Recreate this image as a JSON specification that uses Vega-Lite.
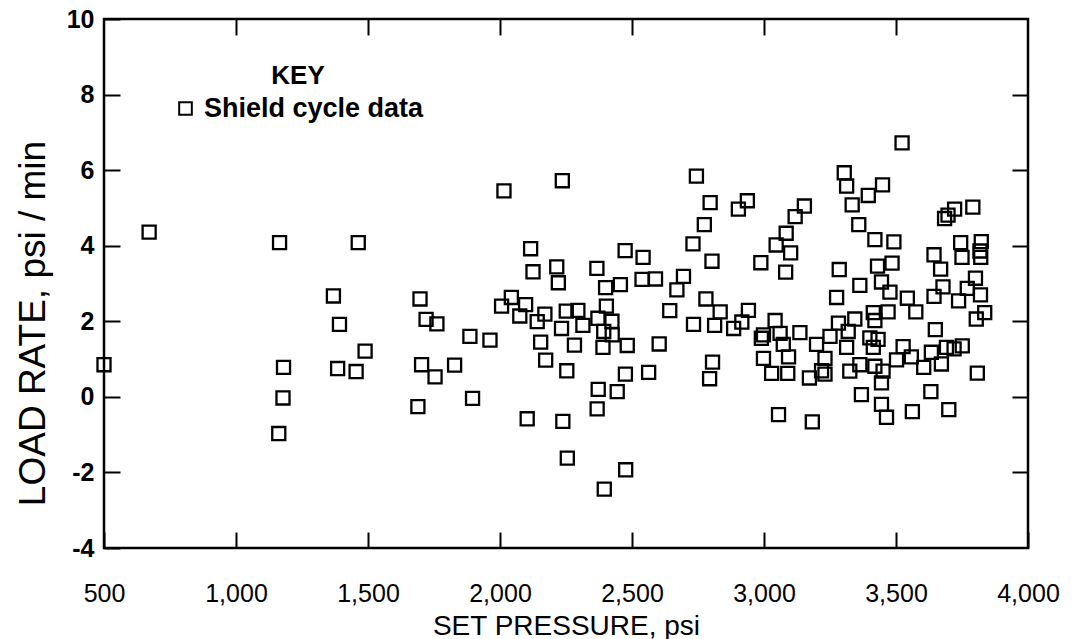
{
  "$schema": "https://vega.github.io/schema/vega-lite/v6.json",
  "width": 924,
  "height": 529,
  "autosize": {"type": "none"},
  "padding": {"left": 104, "top": 19, "right": 48, "bottom": 91},
  "background": "white",
  "config": {
    "view": {"stroke": "black", "strokeWidth": 2.5},
    "axis": {"grid": false, "domain": false, "tickColor": "black", "tickWidth": 2, "labelColor": "black", "titleColor": "black", "labelFlush": false, "labelOverlap": false}
  },
  "data": {
    "values": [
      {"pressure": 500, "rate": 0.85, "series": "Shield cycle data"},
      {"pressure": 671, "rate": 4.36, "series": "Shield cycle data"},
      {"pressure": 1165, "rate": 4.08, "series": "Shield cycle data"},
      {"pressure": 1180, "rate": 0.78, "series": "Shield cycle data"},
      {"pressure": 1178, "rate": -0.03, "series": "Shield cycle data"},
      {"pressure": 1162, "rate": -0.97, "series": "Shield cycle data"},
      {"pressure": 1369, "rate": 2.67, "series": "Shield cycle data"},
      {"pressure": 1392, "rate": 1.92, "series": "Shield cycle data"},
      {"pressure": 1385, "rate": 0.75, "series": "Shield cycle data"},
      {"pressure": 1455, "rate": 0.67, "series": "Shield cycle data"},
      {"pressure": 1463, "rate": 4.08, "series": "Shield cycle data"},
      {"pressure": 1489, "rate": 1.21, "series": "Shield cycle data"},
      {"pressure": 1697, "rate": 2.59, "series": "Shield cycle data"},
      {"pressure": 1720, "rate": 2.05, "series": "Shield cycle data"},
      {"pressure": 1761, "rate": 1.93, "series": "Shield cycle data"},
      {"pressure": 1703, "rate": 0.85, "series": "Shield cycle data"},
      {"pressure": 1754, "rate": 0.53, "series": "Shield cycle data"},
      {"pressure": 1689, "rate": -0.26, "series": "Shield cycle data"},
      {"pressure": 1828, "rate": 0.84, "series": "Shield cycle data"},
      {"pressure": 1886, "rate": 1.6, "series": "Shield cycle data"},
      {"pressure": 1896, "rate": -0.04, "series": "Shield cycle data"},
      {"pressure": 1962, "rate": 1.5, "series": "Shield cycle data"},
      {"pressure": 2006, "rate": 2.4, "series": "Shield cycle data"},
      {"pressure": 2043, "rate": 2.63, "series": "Shield cycle data"},
      {"pressure": 2015, "rate": 5.45, "series": "Shield cycle data"},
      {"pressure": 2097, "rate": 2.44, "series": "Shield cycle data"},
      {"pressure": 2075, "rate": 2.14, "series": "Shield cycle data"},
      {"pressure": 2116, "rate": 3.92, "series": "Shield cycle data"},
      {"pressure": 2125, "rate": 3.31, "series": "Shield cycle data"},
      {"pressure": 2141, "rate": 1.99, "series": "Shield cycle data"},
      {"pressure": 2170, "rate": 2.19, "series": "Shield cycle data"},
      {"pressure": 2154, "rate": 1.45, "series": "Shield cycle data"},
      {"pressure": 2173, "rate": 0.97, "series": "Shield cycle data"},
      {"pressure": 2103, "rate": -0.58, "series": "Shield cycle data"},
      {"pressure": 2236, "rate": 5.72, "series": "Shield cycle data"},
      {"pressure": 2215, "rate": 3.44, "series": "Shield cycle data"},
      {"pressure": 2221, "rate": 3.02, "series": "Shield cycle data"},
      {"pressure": 2233, "rate": 1.81, "series": "Shield cycle data"},
      {"pressure": 2251, "rate": 2.27, "series": "Shield cycle data"},
      {"pressure": 2295, "rate": 2.29, "series": "Shield cycle data"},
      {"pressure": 2314, "rate": 1.89, "series": "Shield cycle data"},
      {"pressure": 2371, "rate": 2.08, "series": "Shield cycle data"},
      {"pressure": 2403, "rate": 2.4, "series": "Shield cycle data"},
      {"pressure": 2424, "rate": 2.0, "series": "Shield cycle data"},
      {"pressure": 2425, "rate": 1.64, "series": "Shield cycle data"},
      {"pressure": 2393, "rate": 1.73, "series": "Shield cycle data"},
      {"pressure": 2282, "rate": 1.37, "series": "Shield cycle data"},
      {"pressure": 2390, "rate": 1.31, "series": "Shield cycle data"},
      {"pressure": 2482, "rate": 1.36, "series": "Shield cycle data"},
      {"pressure": 2603, "rate": 1.4, "series": "Shield cycle data"},
      {"pressure": 2253, "rate": 0.69, "series": "Shield cycle data"},
      {"pressure": 2475, "rate": 0.6, "series": "Shield cycle data"},
      {"pressure": 2563, "rate": 0.65, "series": "Shield cycle data"},
      {"pressure": 2372, "rate": 0.2, "series": "Shield cycle data"},
      {"pressure": 2444, "rate": 0.14, "series": "Shield cycle data"},
      {"pressure": 2368, "rate": -0.32, "series": "Shield cycle data"},
      {"pressure": 2238, "rate": -0.65, "series": "Shield cycle data"},
      {"pressure": 2255, "rate": -1.62, "series": "Shield cycle data"},
      {"pressure": 2476, "rate": -1.93, "series": "Shield cycle data"},
      {"pressure": 2395, "rate": -2.44, "series": "Shield cycle data"},
      {"pressure": 2367, "rate": 3.4, "series": "Shield cycle data"},
      {"pressure": 2474, "rate": 3.87, "series": "Shield cycle data"},
      {"pressure": 2542, "rate": 3.69, "series": "Shield cycle data"},
      {"pressure": 2400, "rate": 2.89, "series": "Shield cycle data"},
      {"pressure": 2456, "rate": 2.97, "series": "Shield cycle data"},
      {"pressure": 2538, "rate": 3.11, "series": "Shield cycle data"},
      {"pressure": 2589, "rate": 3.12, "series": "Shield cycle data"},
      {"pressure": 2744, "rate": 5.84, "series": "Shield cycle data"},
      {"pressure": 2796, "rate": 5.14, "series": "Shield cycle data"},
      {"pressure": 2903, "rate": 4.97, "series": "Shield cycle data"},
      {"pressure": 2937, "rate": 5.19, "series": "Shield cycle data"},
      {"pressure": 2774, "rate": 4.56, "series": "Shield cycle data"},
      {"pressure": 2731, "rate": 4.05, "series": "Shield cycle data"},
      {"pressure": 2803, "rate": 3.59, "series": "Shield cycle data"},
      {"pressure": 2988, "rate": 3.55, "series": "Shield cycle data"},
      {"pressure": 3082, "rate": 3.3, "series": "Shield cycle data"},
      {"pressure": 3101, "rate": 3.81, "series": "Shield cycle data"},
      {"pressure": 3046, "rate": 4.02, "series": "Shield cycle data"},
      {"pressure": 3084, "rate": 4.33, "series": "Shield cycle data"},
      {"pressure": 3118, "rate": 4.77, "series": "Shield cycle data"},
      {"pressure": 3153, "rate": 5.05, "series": "Shield cycle data"},
      {"pressure": 2695, "rate": 3.19, "series": "Shield cycle data"},
      {"pressure": 2670, "rate": 2.83, "series": "Shield cycle data"},
      {"pressure": 2780, "rate": 2.59, "series": "Shield cycle data"},
      {"pressure": 2643, "rate": 2.28, "series": "Shield cycle data"},
      {"pressure": 2834, "rate": 2.25, "series": "Shield cycle data"},
      {"pressure": 2941, "rate": 2.29, "series": "Shield cycle data"},
      {"pressure": 2733, "rate": 1.92, "series": "Shield cycle data"},
      {"pressure": 2813, "rate": 1.89, "series": "Shield cycle data"},
      {"pressure": 2885, "rate": 1.81, "series": "Shield cycle data"},
      {"pressure": 2916, "rate": 1.98, "series": "Shield cycle data"},
      {"pressure": 3042, "rate": 2.02, "series": "Shield cycle data"},
      {"pressure": 2998, "rate": 1.64, "series": "Shield cycle data"},
      {"pressure": 2990, "rate": 1.55, "series": "Shield cycle data"},
      {"pressure": 3061, "rate": 1.68, "series": "Shield cycle data"},
      {"pressure": 3136, "rate": 1.7, "series": "Shield cycle data"},
      {"pressure": 3073, "rate": 1.39, "series": "Shield cycle data"},
      {"pressure": 2998, "rate": 1.02, "series": "Shield cycle data"},
      {"pressure": 3093, "rate": 1.06, "series": "Shield cycle data"},
      {"pressure": 3029, "rate": 0.62, "series": "Shield cycle data"},
      {"pressure": 3090, "rate": 0.62, "series": "Shield cycle data"},
      {"pressure": 3172, "rate": 0.5, "series": "Shield cycle data"},
      {"pressure": 3199, "rate": 1.39, "series": "Shield cycle data"},
      {"pressure": 3250, "rate": 1.6, "series": "Shield cycle data"},
      {"pressure": 3282, "rate": 1.95, "series": "Shield cycle data"},
      {"pressure": 3231, "rate": 1.02, "series": "Shield cycle data"},
      {"pressure": 3218, "rate": 0.69, "series": "Shield cycle data"},
      {"pressure": 3231, "rate": 0.6, "series": "Shield cycle data"},
      {"pressure": 2805, "rate": 0.92, "series": "Shield cycle data"},
      {"pressure": 2794, "rate": 0.48, "series": "Shield cycle data"},
      {"pressure": 3055, "rate": -0.47, "series": "Shield cycle data"},
      {"pressure": 3183, "rate": -0.66, "series": "Shield cycle data"},
      {"pressure": 3304, "rate": 5.93, "series": "Shield cycle data"},
      {"pressure": 3313, "rate": 5.58, "series": "Shield cycle data"},
      {"pressure": 3395, "rate": 5.33, "series": "Shield cycle data"},
      {"pressure": 3449, "rate": 5.61, "series": "Shield cycle data"},
      {"pressure": 3334, "rate": 5.08, "series": "Shield cycle data"},
      {"pressure": 3359, "rate": 4.56, "series": "Shield cycle data"},
      {"pressure": 3420, "rate": 4.16, "series": "Shield cycle data"},
      {"pressure": 3492, "rate": 4.1, "series": "Shield cycle data"},
      {"pressure": 3485, "rate": 3.54, "series": "Shield cycle data"},
      {"pressure": 3430, "rate": 3.46, "series": "Shield cycle data"},
      {"pressure": 3285, "rate": 3.37, "series": "Shield cycle data"},
      {"pressure": 3363, "rate": 2.95, "series": "Shield cycle data"},
      {"pressure": 3445, "rate": 3.04, "series": "Shield cycle data"},
      {"pressure": 3477, "rate": 2.77, "series": "Shield cycle data"},
      {"pressure": 3275, "rate": 2.63, "series": "Shield cycle data"},
      {"pressure": 3344, "rate": 2.06, "series": "Shield cycle data"},
      {"pressure": 3319, "rate": 1.73, "series": "Shield cycle data"},
      {"pressure": 3401, "rate": 1.56, "series": "Shield cycle data"},
      {"pressure": 3432, "rate": 1.52, "series": "Shield cycle data"},
      {"pressure": 3420, "rate": 2.02, "series": "Shield cycle data"},
      {"pressure": 3414, "rate": 2.23, "series": "Shield cycle data"},
      {"pressure": 3470, "rate": 2.25, "series": "Shield cycle data"},
      {"pressure": 3313, "rate": 1.31, "series": "Shield cycle data"},
      {"pressure": 3414, "rate": 1.31, "series": "Shield cycle data"},
      {"pressure": 3325, "rate": 0.68, "series": "Shield cycle data"},
      {"pressure": 3363, "rate": 0.85, "series": "Shield cycle data"},
      {"pressure": 3420, "rate": 0.81, "series": "Shield cycle data"},
      {"pressure": 3451, "rate": 0.68, "series": "Shield cycle data"},
      {"pressure": 3445, "rate": 0.37, "series": "Shield cycle data"},
      {"pressure": 3369, "rate": 0.06, "series": "Shield cycle data"},
      {"pressure": 3445, "rate": -0.2, "series": "Shield cycle data"},
      {"pressure": 3464, "rate": -0.54, "series": "Shield cycle data"},
      {"pressure": 3523, "rate": 6.72, "series": "Shield cycle data"},
      {"pressure": 3684, "rate": 4.72, "series": "Shield cycle data"},
      {"pressure": 3697, "rate": 4.81, "series": "Shield cycle data"},
      {"pressure": 3722, "rate": 4.97, "series": "Shield cycle data"},
      {"pressure": 3791, "rate": 5.02, "series": "Shield cycle data"},
      {"pressure": 3745, "rate": 4.08, "series": "Shield cycle data"},
      {"pressure": 3823, "rate": 4.11, "series": "Shield cycle data"},
      {"pressure": 3818, "rate": 3.86, "series": "Shield cycle data"},
      {"pressure": 3750, "rate": 3.69, "series": "Shield cycle data"},
      {"pressure": 3821, "rate": 3.69, "series": "Shield cycle data"},
      {"pressure": 3801, "rate": 3.14, "series": "Shield cycle data"},
      {"pressure": 3644, "rate": 3.76, "series": "Shield cycle data"},
      {"pressure": 3669, "rate": 3.38, "series": "Shield cycle data"},
      {"pressure": 3678, "rate": 2.91, "series": "Shield cycle data"},
      {"pressure": 3770, "rate": 2.87, "series": "Shield cycle data"},
      {"pressure": 3820, "rate": 2.7, "series": "Shield cycle data"},
      {"pressure": 3737, "rate": 2.54, "series": "Shield cycle data"},
      {"pressure": 3644, "rate": 2.66, "series": "Shield cycle data"},
      {"pressure": 3543, "rate": 2.61, "series": "Shield cycle data"},
      {"pressure": 3575, "rate": 2.25, "series": "Shield cycle data"},
      {"pressure": 3836, "rate": 2.23, "series": "Shield cycle data"},
      {"pressure": 3804, "rate": 2.06, "series": "Shield cycle data"},
      {"pressure": 3527, "rate": 1.33, "series": "Shield cycle data"},
      {"pressure": 3558, "rate": 1.06, "series": "Shield cycle data"},
      {"pressure": 3502, "rate": 0.98, "series": "Shield cycle data"},
      {"pressure": 3605, "rate": 0.78, "series": "Shield cycle data"},
      {"pressure": 3634, "rate": 1.18, "series": "Shield cycle data"},
      {"pressure": 3672, "rate": 0.87, "series": "Shield cycle data"},
      {"pressure": 3691, "rate": 1.31, "series": "Shield cycle data"},
      {"pressure": 3720, "rate": 1.27, "series": "Shield cycle data"},
      {"pressure": 3751, "rate": 1.35, "series": "Shield cycle data"},
      {"pressure": 3649, "rate": 1.78, "series": "Shield cycle data"},
      {"pressure": 3562, "rate": -0.39, "series": "Shield cycle data"},
      {"pressure": 3700, "rate": -0.34, "series": "Shield cycle data"},
      {"pressure": 3632, "rate": 0.14, "series": "Shield cycle data"},
      {"pressure": 3808, "rate": 0.63, "series": "Shield cycle data"}
    ]
  },
  "layer": [
    {
      "mark": {"type": "point", "filled": false, "size": 170, "strokeWidth": 2.3, "color": "black", "opacity": 1, "clip": false},
      "encoding": {
        "x": {
          "field": "pressure", "type": "quantitative",
          "scale": {"domain": [500, 4000], "nice": false, "zero": false},
          "axis": {
            "orient": "bottom", "values": [500, 1000, 1500, 2000, 2500, 3000, 3500, 4000], "format": ",d",
            "offset": -16, "tickSize": 16, "labelPadding": 33,
            "labelFont": "Liberation Sans, Arial, sans-serif", "labelFontSize": 25, "labelFontWeight": "normal",
            "title": "SET PRESSURE, psi", "titleFont": "Liberation Sans, Arial, sans-serif", "titleFontSize": 28, "titleFontWeight": "normal",
            "titleBaseline": "alphabetic", "titleY": 102
          }
        },
        "y": {
          "field": "rate", "type": "quantitative",
          "scale": {"domain": [-4, 10], "nice": false, "zero": false},
          "axis": {
            "orient": "left", "values": [-4, -2, 0, 2, 4, 6, 8, 10],
            "offset": -16, "tickSize": 16, "labelPadding": 10,
            "labelExpr": "replace(datum.label, '\u2212', '-')",
            "labelFont": "Liberation Sans, Arial, sans-serif", "labelFontSize": 25, "labelFontWeight": "bold",
            "title": "LOAD RATE, psi / min", "titleFont": "Liberation Sans, Arial, sans-serif", "titleFontSize": 37, "titleFontWeight": "normal",
            "titleBaseline": "alphabetic", "titleX": -76, "titleY": 304
          }
        },
        "shape": {
          "field": "series", "type": "nominal",
          "scale": {"range": ["square"]},
          "legend": {
            "orient": "none", "legendX": 68, "legendY": 44, "padding": 0,
            "title": "KEY", "titleFont": "Liberation Sans, Arial, sans-serif", "titleFontSize": 26, "titleFontWeight": "bold", "titleColor": "black",
            "titleAnchor": "middle", "titleAlign": "center", "titlePadding": 6,
            "labelFont": "Liberation Sans, Arial, sans-serif", "labelFontSize": 27, "labelFontWeight": "bold", "labelColor": "black", "labelOffset": 5, "labelLimit": 400,
            "symbolSize": 160, "symbolStrokeWidth": 2, "symbolStrokeColor": "black", "symbolFillColor": "transparent"
          }
        }
      }
    },
    {
      "mark": {"type": "point", "opacity": 0},
      "encoding": {
        "x": {
          "field": "pressure", "type": "quantitative",
          "axis": {"orient": "top", "values": [1000, 1500, 2000, 2500, 3000, 3500], "labels": false, "title": null, "offset": -16, "tickSize": 16}
        },
        "y": {
          "field": "rate", "type": "quantitative",
          "axis": {"orient": "right", "values": [-2, 0, 2, 4, 6, 8], "labels": false, "title": null, "offset": -16, "tickSize": 16}
        }
      }
    }
  ],
  "resolve": {"axis": {"x": "independent", "y": "independent"}}
}
